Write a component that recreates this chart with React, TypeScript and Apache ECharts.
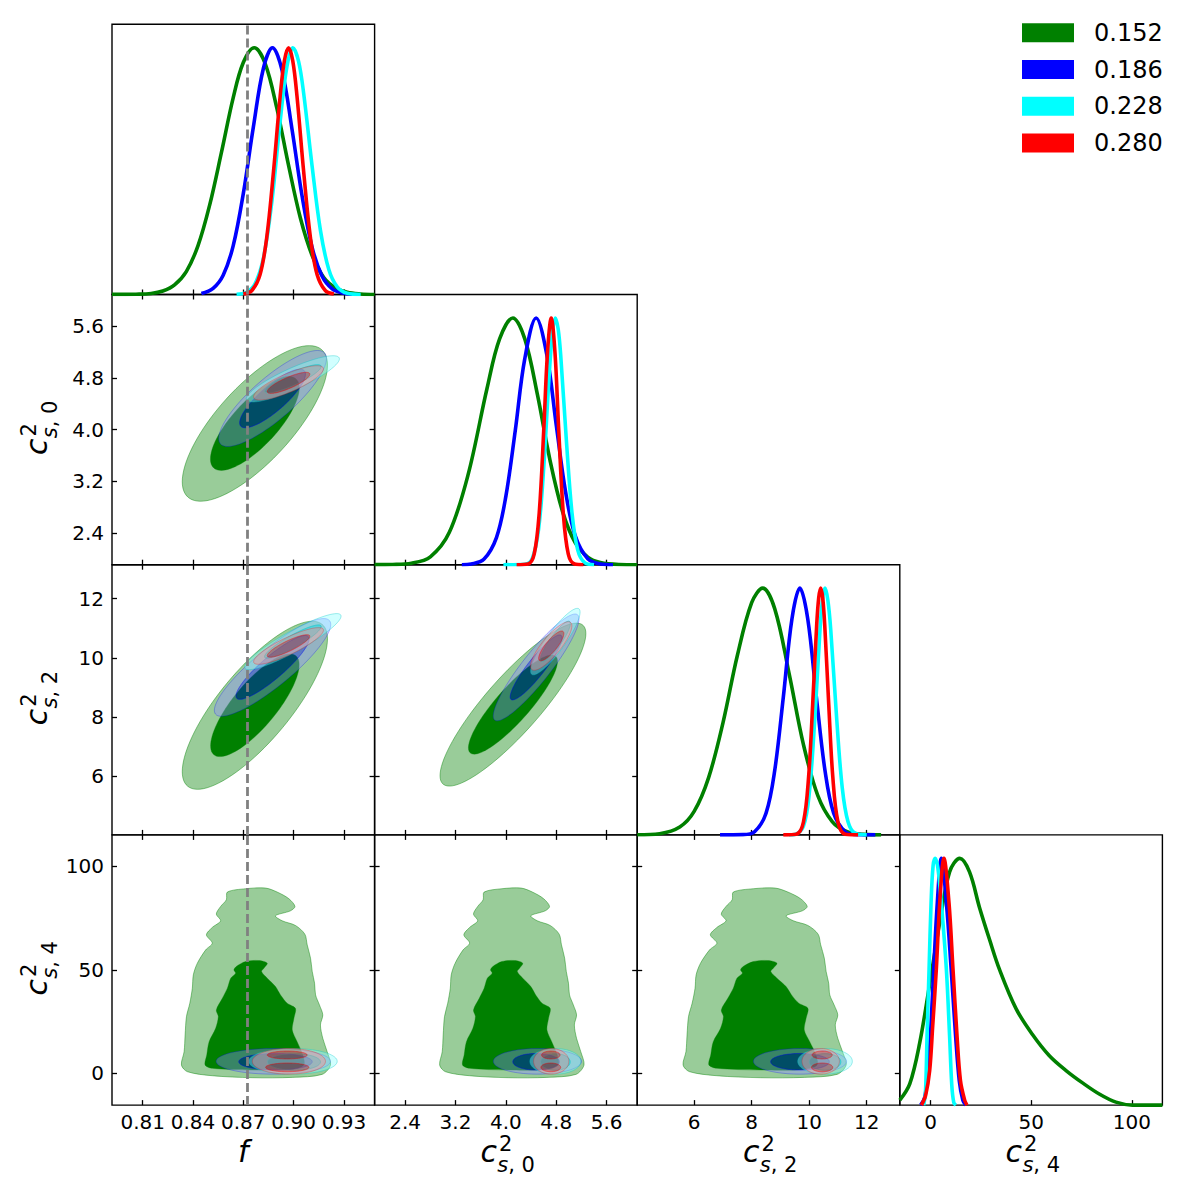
import React, { useEffect, useRef } from 'react';
import * as echarts from 'echarts';

// ---------------- names, colours ----------------
const seriesNames = ['0.152', '0.186', '0.228', '0.280'];
const seriesColors = ['#008000', '#0000ff', '#00ffff', '#ff0000'];
const outerFills = ['rgb(153,204,153)', 'rgba(140,140,255,0.4)', 'rgba(140,255,255,0.4)', 'rgba(255,140,140,0.4)'];
const innerFills = ['#008000', 'rgba(0,0,255,0.4)', 'rgba(0,255,255,0.4)', 'rgba(255,0,0,0.4)'];
const edgeColors = ['rgba(0,128,0,0.55)', 'rgba(0,0,255,0.35)', 'rgba(0,200,200,0.45)', 'rgba(255,0,0,0.35)'];

// ---------------- axes ----------------
const fRange = [0.7917, 0.9483];
const c0Range = [1.915, 6.085];
const c2Range = [4.02, 13.15];
const c4Range = [-15.35, 115.2];
const densityMax = 1.095;

const fTicks = [0.81, 0.84, 0.87, 0.9, 0.93];
const c0Ticks = [2.4, 3.2, 4.0, 4.8, 5.6];
const c2Ticks = [6, 8, 10, 12];
const c4Ticks = [0, 50, 100];
const tickDecimals = [2, 1, 0, 0];

const fRef = 0.8725;

// ---------------- 1D marginals [x, density] ----------------
const fGreen = [[0.7917, 0.0005], [0.806, 0.0013], [0.815, 0.004], [0.822, 0.014], [0.829, 0.039], [0.836, 0.093], [0.843, 0.198], [0.85, 0.364], [0.857, 0.577], [0.864, 0.798], [0.87, 0.94], [0.8765, 1.0], [0.883, 0.937], [0.89, 0.755], [0.897, 0.523], [0.904, 0.311], [0.911, 0.159], [0.918, 0.069], [0.925, 0.027], [0.932, 0.0087], [0.94, 0.002], [0.9483, 0.0]];
const fBlue = [[0.845, 0.004], [0.852, 0.025], [0.858, 0.078], [0.864, 0.198], [0.87, 0.409], [0.876, 0.679], [0.882, 0.917], [0.8874, 1.0], [0.893, 0.911], [0.899, 0.672], [0.905, 0.401], [0.911, 0.192], [0.917, 0.074], [0.923, 0.023], [0.929, 0.006], [0.935, 0.001]];
const fCyan = [[0.866, 0.001], [0.872, 0.009], [0.877, 0.043], [0.882, 0.147], [0.887, 0.375], [0.892, 0.703], [0.896, 0.923], [0.8996, 1.0], [0.903, 0.944], [0.906, 0.815], [0.911, 0.522], [0.916, 0.26], [0.921, 0.101], [0.926, 0.031], [0.932, 0.005], [0.94, 0.0003]];
const fRed = [[0.87, 0.002], [0.875, 0.015], [0.88, 0.081], [0.884, 0.232], [0.888, 0.498], [0.892, 0.805], [0.8945, 0.947], [0.897, 1.0], [0.8995, 0.947], [0.902, 0.805], [0.906, 0.498], [0.91, 0.232], [0.914, 0.081], [0.919, 0.015], [0.924, 0.002]];

const c0Green = [[1.915, 0.0003], [2.2, 0.001], [2.5, 0.006], [2.8, 0.032], [3.1, 0.13], [3.4, 0.365], [3.7, 0.714], [3.9, 0.915], [4.111, 1.0], [4.3, 0.915], [4.5, 0.69], [4.7, 0.424], [4.9, 0.215], [5.1, 0.089], [5.3, 0.031], [5.5, 0.009], [5.8, 0.001], [6.085, 0]];
const c0Blue = [[3.3, 0.0], [3.45, 0.003], [3.65, 0.022], [3.85, 0.11], [4.0, 0.278], [4.15, 0.546], [4.3, 0.835], [4.48, 1.0], [4.65, 0.85], [4.8, 0.565], [4.95, 0.292], [5.1, 0.118], [5.3, 0.024], [5.5, 0.003], [5.7, 0]];
const c0Cyan = [[3.96, 0], [4.3, 0.002], [4.42, 0.026], [4.52, 0.146], [4.6, 0.391], [4.68, 0.738], [4.735, 0.93], [4.785, 1.0], [4.83, 0.955], [4.87, 0.85], [4.96, 0.505], [5.05, 0.209], [5.14, 0.06], [5.25, 0.008], [5.4, 0]];
const c0Red = [[4.17, 0], [4.35, 0.003], [4.45, 0.044], [4.53, 0.213], [4.6, 0.54], [4.66, 0.857], [4.72, 1.0], [4.78, 0.857], [4.84, 0.54], [4.91, 0.213], [4.99, 0.044], [5.09, 0.003], [5.23, 0]];

const c2Green = [[4.02, 0.0004], [4.8, 0.005], [5.5, 0.032], [6.0, 0.095], [6.5, 0.231], [7.0, 0.453], [7.5, 0.726], [8.0, 0.941], [8.384, 1.0], [8.8, 0.917], [9.3, 0.655], [9.8, 0.366], [10.3, 0.159], [10.8, 0.054], [11.3, 0.014], [11.9, 0.002], [12.5, 0]];
const c2Blue = [[6.9, 0], [7.7, 0.001], [8.1, 0.013], [8.5, 0.088], [8.8, 0.26], [9.1, 0.558], [9.4, 0.875], [9.675, 1.0], [9.95, 0.875], [10.25, 0.558], [10.55, 0.26], [10.85, 0.088], [11.25, 0.013], [11.65, 0.001], [12.3, 0]];
const c2Cyan = [[9.3, 0], [9.5, 0.002], [9.8, 0.035], [10.0, 0.165], [10.2, 0.48], [10.38, 0.84], [10.47, 0.96], [10.55, 1.0], [10.65, 0.95], [10.75, 0.83], [10.95, 0.48], [11.15, 0.19], [11.35, 0.053], [11.6, 0.006], [12.0, 0]];
const c2Red = [[9.1, 0], [9.55, 0.003], [9.8, 0.052], [9.98, 0.236], [10.12, 0.527], [10.26, 0.85], [10.33, 0.96], [10.4, 1.0], [10.47, 0.96], [10.54, 0.85], [10.68, 0.527], [10.82, 0.236], [11.0, 0.052], [11.25, 0.003], [11.7, 0]];

const c4Green = [[-15.35, 0.02], [-10.4, 0.086], [-5.5, 0.25], [-0.5, 0.49], [4.5, 0.74], [9.4, 0.945], [14.5, 1.0], [19.3, 0.945], [24.3, 0.8], [29.3, 0.67], [34.2, 0.55], [42.5, 0.39], [50.7, 0.285], [59.0, 0.2], [67.3, 0.14], [75.5, 0.09], [83.8, 0.045], [92.1, 0.012], [100.3, 0.0], [115.2, 0.0]];
const c4Blue = [[-5, 0], [-3, 0.03], [-1.3, 0.14], [0, 0.3], [1.5, 0.55], [3.3, 0.82], [5.3, 1.0], [7.8, 0.82], [10.2, 0.55], [12.4, 0.28], [14.2, 0.1], [16, 0.02], [17.5, 0]];
const c4Cyan = [[-3.5, 0], [-2.6, 0.05], [-1.8, 0.28], [-0.8, 0.55], [0.2, 0.82], [1.2, 0.97], [2.3, 1.0], [3.6, 0.96], [5.3, 0.82], [7.8, 0.55], [9.4, 0.28], [10.5, 0.08], [11.5, 0.01], [12.5, 0]];
const c4Red = [[-4.6, 0], [-2.5, 0.04], [-0.5, 0.14], [1.0, 0.32], [2.8, 0.55], [4.5, 0.82], [6.6, 1.0], [9.1, 0.82], [11.1, 0.55], [13.1, 0.28], [14.8, 0.1], [16.9, 0.02], [18, 0]];

// ---------------- 2D contours: ellipses [cx, cy, rightmostX, rightmostY, halfVerticalChord] ----------------
const fc0Green95 = [0.8769, 4.095, 0.9202, 4.994, 0.796];
const fc0Green68 = [0.8769, 4.095, 0.9034, 4.644, 0.473];
const fc0Blue95 = [0.88745, 4.48, 0.91958, 5.0965, 0.411];
const fc0Blue68 = [0.88745, 4.48, 0.90708, 4.855, 0.252];
const fc0Cyan95 = [0.89955, 4.783, 0.92731, 5.0913, 0.18];
const fc0Cyan68 = [0.89955, 4.783, 0.9164, 4.973, 0.108];
const fc0Red95 = [0.89697, 4.7214, 0.91779, 4.937, 0.154];
const fc0Red68 = [0.89697, 4.7214, 0.90966, 4.855, 0.0925];

const fc2Green95 = [0.8769, 8.4, 0.9202, 10.642, 1.743];
const fc2Green68 = [0.8769, 8.4, 0.9033, 9.77, 1.064];
const fc2Blue95 = [0.88745, 9.679, 0.92215, 11.128, 0.792];
const fc2Blue68 = [0.88745, 9.679, 0.90926, 10.642, 0.487];
const fc2Cyan95 = [0.89955, 10.551, 0.9283, 11.411, 0.396];
const fc2Cyan68 = [0.89955, 10.551, 0.9164, 11.06, 0.238];
const fc2Red95 = [0.89697, 10.404, 0.91779, 10.936, 0.317];
const fc2Red68 = [0.89697, 10.404, 0.90966, 10.732, 0.192];

const c0c2Green95 = [4.112, 8.423, 5.27, 10.823, 1.35];
const c0c2Green68 = [4.112, 8.423, 4.819, 9.883, 0.82];
const c0c2Blue95 = [4.48, 9.679, 5.161, 11.321, 0.75];
const c0c2Blue68 = [4.48, 9.679, 4.892, 10.676, 0.46];
const c0c2Cyan95 = [4.785, 10.551, 5.178, 11.547, 0.52];
const c0c2Cyan68 = [4.785, 10.551, 5.023, 11.162, 0.32];
const c0c2Red95 = [4.72, 10.404, 5.048, 11.083, 0.46];
const c0c2Red68 = [4.72, 10.404, 4.92, 10.823, 0.28];

const fc4Blue95 = [0.8879, 5.8, 0.922, 5.8, 6.2];
const fc4Blue68 = [0.8892, 5.6, 0.9111, 5.6, 4.0];
const fc4Cyan95 = [0.8996, 5.8, 0.926, 5.8, 6.2];
const fc4Cyan68 = [0.9002, 5.5, 0.916, 5.5, 4.0];
const fc4Red95 = [0.8972, 5.8, 0.919, 5.8, 6.2];
const fc4Red68a = [0.8962, 8.85, 0.9081, 8.85, 1.9];
const fc4Red68b = [0.8962, 2.88, 0.9091, 2.88, 2.1];

const c0c4Blue95 = [4.5, 5.8, 5.2, 5.8, 6.2];
const c0c4Blue68 = [4.48, 5.6, 4.85, 5.6, 4.0];
const c0c4Cyan95 = [4.785, 5.8, 5.19, 5.8, 6.2];
const c0c4Cyan68 = [4.785, 5.5, 5.02, 5.5, 4.0];
const c0c4Red95 = [4.72, 5.8, 5.0, 5.8, 6.2];
const c0c4Red68a = [4.713, 8.85, 4.86, 8.85, 1.9];
const c0c4Red68b = [4.713, 2.88, 4.87, 2.88, 2.1];

const c2c4Blue95 = [9.68, 5.8, 11.3, 5.8, 6.2];
const c2c4Blue68 = [9.68, 5.6, 10.7, 5.6, 4.0];
const c2c4Cyan95 = [10.55, 5.8, 11.5, 5.8, 6.2];
const c2c4Cyan68 = [10.55, 5.5, 11.1, 5.5, 4.0];
const c2c4Red95 = [10.4, 5.8, 11.05, 5.8, 6.2];
const c2c4Red68a = [10.45, 8.85, 10.8, 8.85, 1.9];
const c2c4Red68b = [10.45, 2.88, 10.82, 2.88, 2.1];

// ---------------- green (0.152) contours against c4: irregular outlines ----------------
const c4GreenOuterY = [87.58, 89.19, 89.51, 87.58, 84.35, 80.64, 78.54, 76.12, 73.7, 71.44, 67.25, 62.09, 55.63, 49.18, 43.53, 37.89, 33.05, 28.21, 23.37, 16.91, 10.46, 4.01, -0.51, -1.96, -2.12, -1.16, 0.78, 4.01, 10.46, 18.53, 27.4, 33.85, 41.11, 47.57, 53.21, 59.67, 62.89, 66.93, 70.48, 73.7, 76.93, 80.64, 83.87];
const fGreenOuterX = [0.8605, 0.8714, 0.8833, 0.8902, 0.8972, 0.9008, 0.8982, 0.8892, 0.8932, 0.9011, 0.9067, 0.9081, 0.9101, 0.9111, 0.9125, 0.9131, 0.9154, 0.9174, 0.916, 0.9174, 0.92, 0.922, 0.917, 0.8992, 0.8754, 0.8515, 0.8367, 0.8331, 0.8347, 0.8353, 0.8361, 0.8381, 0.8396, 0.8402, 0.8426, 0.8476, 0.8515, 0.848, 0.8515, 0.8565, 0.8539, 0.8565, 0.8599];
const c0GreenOuterX = [3.654, 3.935, 4.242, 4.421, 4.6, 4.693, 4.626, 4.396, 4.498, 4.703, 4.846, 4.882, 4.933, 4.959, 4.994, 5.01, 5.071, 5.122, 5.087, 5.122, 5.189, 5.24, 5.112, 4.652, 4.038, 3.424, 3.04, 2.948, 2.989, 3.004, 3.025, 3.076, 3.117, 3.132, 3.194, 3.321, 3.424, 3.332, 3.424, 3.552, 3.485, 3.552, 3.639];
const c2GreenOuterX = [7.361, 8.057, 8.817, 9.26, 9.703, 9.931, 9.766, 9.196, 9.45, 9.956, 10.31, 10.399, 10.526, 10.589, 10.678, 10.716, 10.867, 10.994, 10.906, 10.994, 11.159, 11.285, 10.969, 9.829, 8.31, 6.791, 5.842, 5.614, 5.715, 5.753, 5.804, 5.93, 6.031, 6.069, 6.221, 6.538, 6.791, 6.563, 6.791, 7.108, 6.943, 7.108, 7.323];
const c4GreenInnerY = [51.6, 54.02, 54.5, 53.21, 50.79, 49.18, 45.95, 41.92, 37.89, 33.85, 31.43, 26.59, 20.95, 15.3, 8.85, 4.01, 1.91, 1.59, 2.4, 4.01, 8.85, 15.3, 21.75, 27.4, 30.63, 36.27, 41.11, 45.95, 48.37, 49.99];
const fGreenInnerX = [0.8658, 0.8714, 0.8793, 0.8843, 0.8823, 0.8809, 0.8843, 0.8892, 0.8922, 0.8962, 0.9011, 0.9002, 0.8992, 0.9021, 0.9055, 0.9061, 0.8992, 0.8754, 0.8515, 0.8472, 0.8482, 0.8496, 0.8535, 0.8551, 0.8539, 0.8575, 0.8605, 0.8625, 0.8654, 0.8644];
const c0GreenInnerX = [3.792, 3.935, 4.14, 4.268, 4.217, 4.181, 4.268, 4.396, 4.473, 4.575, 4.703, 4.677, 4.652, 4.728, 4.815, 4.831, 4.652, 4.038, 3.424, 3.311, 3.337, 3.373, 3.475, 3.516, 3.485, 3.577, 3.654, 3.705, 3.782, 3.756];
const c2GreenInnerX = [7.703, 8.057, 8.563, 8.88, 8.753, 8.665, 8.88, 9.196, 9.386, 9.64, 9.956, 9.893, 9.829, 10.019, 10.235, 10.273, 9.829, 8.31, 6.791, 6.512, 6.576, 6.664, 6.918, 7.019, 6.943, 7.171, 7.361, 7.487, 7.677, 7.614];

// ---------------- layout ----------------
const GRID_LEFT = 112;
const GRID_TOP = 24.3;
const CELL_W = 262.6;
const CELL_H = 270.2;
const FONT = 'DejaVu Sans';

const paramRanges = [fRange, c0Range, c2Range, c4Range];
const paramTicks = [fTicks, c0Ticks, c2Ticks, c4Ticks];
const curves1D = [
  [fGreen, fBlue, fCyan, fRed],
  [c0Green, c0Blue, c0Cyan, c0Red],
  [c2Green, c2Blue, c2Cyan, c2Red],
  [c4Green, c4Blue, c4Cyan, c4Red],
];

const ellipsePanels: any[] = [
  { r: 1, c: 0, sets: [[fc0Green95, [fc0Green68]], [fc0Blue95, [fc0Blue68]], [fc0Cyan95, [fc0Cyan68]], [fc0Red95, [fc0Red68]]] },
  { r: 2, c: 0, sets: [[fc2Green95, [fc2Green68]], [fc2Blue95, [fc2Blue68]], [fc2Cyan95, [fc2Cyan68]], [fc2Red95, [fc2Red68]]] },
  { r: 2, c: 1, sets: [[c0c2Green95, [c0c2Green68]], [c0c2Blue95, [c0c2Blue68]], [c0c2Cyan95, [c0c2Cyan68]], [c0c2Red95, [c0c2Red68]]] },
  { r: 3, c: 0, sets: [null, [fc4Blue95, [fc4Blue68]], [fc4Cyan95, [fc4Cyan68]], [fc4Red95, [fc4Red68a, fc4Red68b]]] },
  { r: 3, c: 1, sets: [null, [c0c4Blue95, [c0c4Blue68]], [c0c4Cyan95, [c0c4Cyan68]], [c0c4Red95, [c0c4Red68a, c0c4Red68b]]] },
  { r: 3, c: 2, sets: [null, [c2c4Blue95, [c2c4Blue68]], [c2c4Cyan95, [c2c4Cyan68]], [c2c4Red95, [c2c4Red68a, c2c4Red68b]]] },
];
const greenC4Panels = [
  { c: 0, outerX: fGreenOuterX, innerX: fGreenInnerX },
  { c: 1, outerX: c0GreenOuterX, innerX: c0GreenInnerX },
  { c: 2, outerX: c2GreenOuterX, innerX: c2GreenInnerX },
];

function ellipsePoints(api: any, e: number[], reverse: boolean) {
  const [cx, cy, rx, ry, h] = e;
  const ax = rx - cx;
  const ay = ry - cy;
  const pts: number[][] = [];
  const N = 96;
  for (let k = 0; k < N; k++) {
    const t = (reverse ? -2 : 2) * Math.PI * k / N;
    pts.push(api.coord([cx + ax * Math.cos(t), cy + ay * Math.cos(t) + h * Math.sin(t)]));
  }
  return pts;
}
function pathOf(pts: number[][]) {
  return 'M ' + pts.map((p) => p[0].toFixed(2) + ' ' + p[1].toFixed(2)).join(' L ') + ' Z ';
}

function makeAxis(gi: number, p: number, position: string, labels: boolean) {
  const isX = position === 'bottom' || position === 'top';
  return {
    type: 'value',
    gridIndex: gi,
    position,
    min: paramRanges[p][0],
    max: paramRanges[p][1],
    axisLine: { show: false, onZero: false },
    splitLine: { show: false },
    axisTick: { show: true, inside: true, length: 5, lineStyle: { color: '#000', width: 1.3 }, customValues: paramTicks[p] },
    axisLabel: {
      show: labels,
      customValues: paramTicks[p],
      formatter: (v: any) => Number(v).toFixed(tickDecimals[p]),
      color: '#000',
      fontSize: 20,
      fontFamily: FONT,
      margin: isX ? 7 : 8,
    },
  };
}

function mathLabelChildren(sub: string) {
  const base = { fill: '#000', fontFamily: FONT, verticalAlign: 'middle', textVerticalAlign: 'middle', align: 'left', textAlign: 'left' };
  return [
    { type: 'text', x: 0, y: -10.4, style: { ...base, text: 'c', fontSize: 30, fontStyle: 'italic', lineHeight: 22 } },
    { type: 'text', x: 18.5, y: -18.3, style: { ...base, text: '2', fontSize: 21, lineHeight: 15 } },
    {
      type: 'text',
      x: 16.8,
      y: 3.2,
      style: {
        ...base,
        text: '{i|s}{n|, ' + sub + '}',
        fontSize: 21,
        lineHeight: 15,
        rich: {
          i: { fontStyle: 'italic', fontSize: 21, fontFamily: FONT, fill: '#000', lineHeight: 15 },
          n: { fontSize: 21, fontFamily: FONT, fill: '#000', lineHeight: 15 },
        },
      },
    },
  ];
}

function buildOption() {
  const grid: any[] = [];
  const xAxis: any[] = [];
  const yAxis: any[] = [];
  const axesOf: Record<string, { x: number; y: number }> = {};

  for (let r = 0; r < 4; r++) {
    for (let c = 0; c <= r; c++) {
      const gi = grid.length;
      grid.push({
        left: GRID_LEFT + c * CELL_W,
        top: GRID_TOP + r * CELL_H,
        width: CELL_W,
        height: CELL_H,
        show: true,
        borderColor: '#000',
        borderWidth: 1.4,
        backgroundColor: 'transparent',
        containLabel: false,
        outerBoundsMode: 'none',
      });
      const xi = xAxis.length;
      xAxis.push(makeAxis(gi, c, 'bottom', r === 3));
      if (r !== c) xAxis.push(makeAxis(gi, c, 'top', false));
      const yi = yAxis.length;
      if (r === c) {
        yAxis.push({ type: 'value', gridIndex: gi, min: 0, max: densityMax, show: false, splitLine: { show: false } });
      } else {
        yAxis.push(makeAxis(gi, r, 'left', c === 0));
        yAxis.push(makeAxis(gi, r, 'right', false));
      }
      axesOf[r + '-' + c] = { x: xi, y: yi };
    }
  }

  const series: any[] = [];

  // green irregular contours (c4 row)
  greenC4Panels.forEach((gp) => {
    const ax = axesOf['3-' + gp.c];
    const outer = gp.outerX.map((x, i) => [x, c4GreenOuterY[i]]);
    const inner = gp.innerX.map((x, i) => [x, c4GreenInnerY[i]]);
    series.push({
      type: 'custom',
      xAxisIndex: ax.x,
      yAxisIndex: ax.y,
      clip: true,
      silent: true,
      data: [outer[0]],
      renderItem: (_p: any, api: any) => ({
        type: 'group',
        children: [
          { type: 'polygon', shape: { points: outer.map((pt) => api.coord(pt)), smooth: 0.3 }, style: { fill: outerFills[0], stroke: edgeColors[0], lineWidth: 0.8 } },
          { type: 'polygon', shape: { points: inner.map((pt) => api.coord(pt)), smooth: 0.3 }, style: { fill: innerFills[0], stroke: edgeColors[0], lineWidth: 0.6 } },
        ],
      }),
    });
  });

  // ellipse contours
  ellipsePanels.forEach((ep) => {
    const ax = axesOf[ep.r + '-' + ep.c];
    ep.sets.forEach((set: any, ci: number) => {
      if (!set) return;
      const outer = set[0];
      const inners = set[1];
      series.push({
        type: 'custom',
        xAxisIndex: ax.x,
        yAxisIndex: ax.y,
        clip: true,
        silent: true,
        data: [[outer[0], outer[1]]],
        renderItem: (_p: any, api: any) => {
          const o = ellipsePoints(api, outer, false);
          const insRev = inners.map((e: number[]) => ellipsePoints(api, e, true));
          const ins = inners.map((e: number[]) => ellipsePoints(api, e, false));
          if (ci === 0) {
            return {
              type: 'group',
              children: [
                { type: 'path', shape: { pathData: pathOf(o) }, style: { fill: outerFills[0], stroke: edgeColors[0], lineWidth: 0.8 } },
                { type: 'path', shape: { pathData: ins.map(pathOf).join('') }, style: { fill: innerFills[0], stroke: edgeColors[0], lineWidth: 0.6 } },
              ],
            };
          }
          return {
            type: 'group',
            children: [
              { type: 'path', shape: { pathData: pathOf(o) + insRev.map(pathOf).join('') }, style: { fill: outerFills[ci], stroke: edgeColors[ci], lineWidth: 0.8 } },
              { type: 'path', shape: { pathData: ins.map(pathOf).join('') }, style: { fill: innerFills[ci], stroke: edgeColors[ci], lineWidth: 0.6 } },
            ],
          };
        },
      });
    });
  });

  // 1D marginals
  for (let p = 0; p < 4; p++) {
    const ax = axesOf[p + '-' + p];
    curves1D[p].forEach((data, ci) => {
      series.push({
        type: 'line',
        name: seriesNames[ci],
        xAxisIndex: ax.x,
        yAxisIndex: ax.y,
        data,
        showSymbol: false,
        symbol: 'none',
        smooth: 0.35,
        clip: true,
        silent: true,
        lineStyle: { color: seriesColors[ci], width: 3.6 },
        itemStyle: { color: seriesColors[ci] },
      });
    });
  }

  // dashed reference line in the f column
  for (let r = 0; r < 4; r++) {
    const ax = axesOf[r + '-0'];
    const yr = r === 0 ? [0, densityMax] : paramRanges[r];
    series.push({
      type: 'line',
      xAxisIndex: ax.x,
      yAxisIndex: ax.y,
      data: [[fRef, yr[0]], [fRef, yr[1]]],
      showSymbol: false,
      symbol: 'none',
      silent: true,
      z: 10,
      lineStyle: { color: '#808080', width: 2.8, type: [9, 4] },
    });
  }

  // axis titles
  const graphic: any[] = [];
  const colCenter = (c: number) => GRID_LEFT + (c + 0.5) * CELL_W;
  const rowCenter = (r: number) => GRID_TOP + (r + 0.5) * CELL_H;
  graphic.push({
    type: 'text',
    x: colCenter(0),
    y: 1162 - 10.4,
    style: { text: 'f', fill: '#000', fontFamily: FONT, fontSize: 30, fontStyle: 'italic', align: 'center', textAlign: 'center', verticalAlign: 'middle', textVerticalAlign: 'middle' },
  });
  const subs = ['', '0', '2', '4'];
  for (let c = 1; c < 4; c++) {
    graphic.push({ type: 'group', x: colCenter(c) - 25.5, y: 1162, children: mathLabelChildren(subs[c]) });
  }
  for (let r = 1; r < 4; r++) {
    graphic.push({ type: 'group', x: 47, y: rowCenter(r) + 25.5, rotation: Math.PI / 2, children: mathLabelChildren(subs[r]) });
  }

  return {
    animation: false,
    backgroundColor: '#ffffff',
    textStyle: { fontFamily: FONT },
    grid,
    xAxis,
    yAxis,
    series,
    graphic,
    legend: {
      data: seriesNames,
      orient: 'vertical',
      left: 1022,
      top: 20.8,
      padding: 0,
      icon: 'rect',
      itemWidth: 52,
      itemHeight: 19,
      itemGap: 12.7,
      selectedMode: false,
      itemStyle: { borderWidth: 0 },
      textStyle: { fontSize: 24, color: '#000', fontFamily: FONT, padding: [0, 0, 0, 15], lineHeight: 19 },
    },
  };
}

export default function App() {
  const ref = useRef<HTMLDivElement>(null);
  useEffect(() => {
    const chart = echarts.init(ref.current as HTMLDivElement, undefined, { renderer: 'svg' });
    chart.setOption(buildOption() as any);
    return () => chart.dispose();
  }, []);
  return (
    <div
      ref={ref}
      style={{ position: 'absolute', left: 0, top: 0, width: 1188, height: 1192, background: '#fff' }}
    />
  );
}
